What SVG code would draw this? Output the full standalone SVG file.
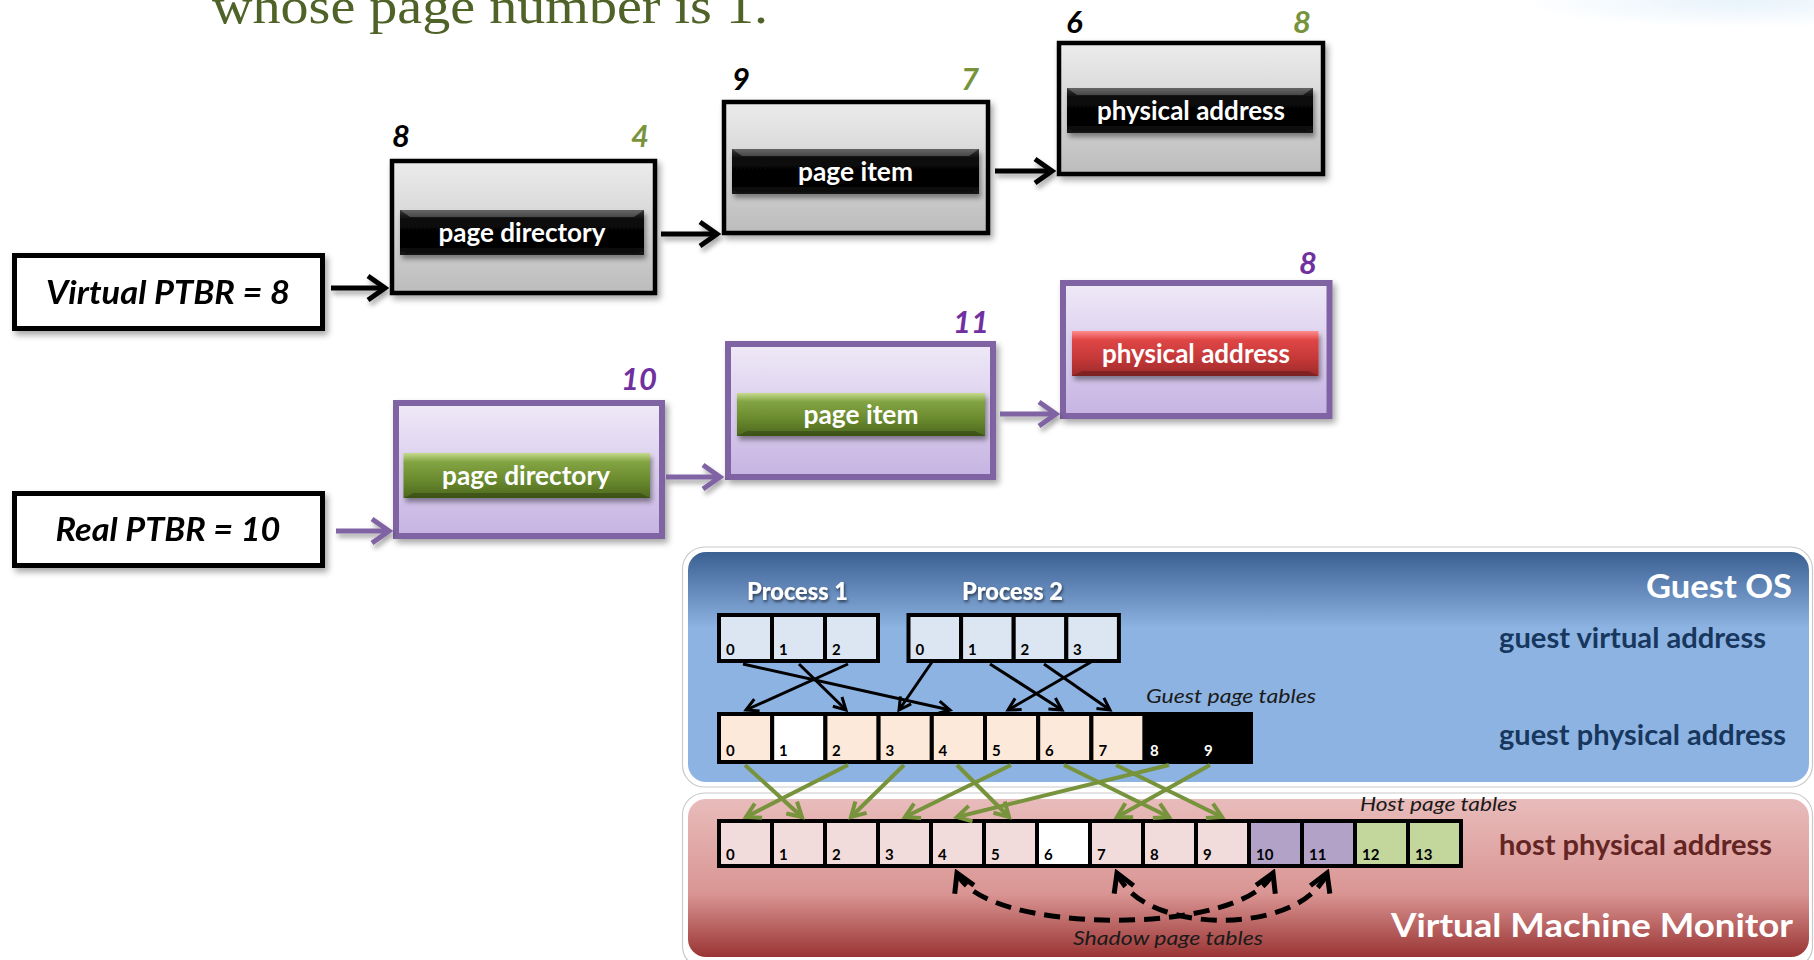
<svg xmlns="http://www.w3.org/2000/svg" width="1814" height="960" viewBox="0 0 1814 960">
  <defs>
    <style>
      .ptbr { fill: #ffffff; stroke: #000000; stroke-width: 5; }
      .ptbrTxt { font-family: Lato, "Liberation Sans", sans-serif; font-size: 33px; font-style: italic; font-weight: bold; fill: #000000; text-anchor: middle; }
      .grayBox { fill: url(#grayGrad); stroke: #000000; stroke-width: 4.5; }
      .purpleBox { fill: url(#purpleGrad); stroke: #8064a2; stroke-width: 6; }
      .btnTxt { font-family: Lato, "Liberation Sans", sans-serif; font-size: 27px; font-weight: bold; fill: #ffffff; text-anchor: middle; }
      .bevelTop { fill: #ffffff; opacity: 0.22; }
      .bevelBot { fill: #000000; opacity: 0.22; }
      .num { font-family: Lato, "Liberation Sans", sans-serif; font-size: 31px; font-style: italic; font-weight: bold; }
      .numBlack { fill: #000000; }
      .numGreen { fill: #77933c; }
      .numPurple { fill: #7030a0; }
      .cell { stroke: #000000; stroke-width: 4; }
      .pv { fill: #dce6f2; }
      .gp { fill: #fde9d9; }
      .hp { fill: #f2dcdb; }
      .wh { fill: #ffffff; }
      .bk { fill: #000000; }
      .pu { fill: #b3a2c7; }
      .gr { fill: #c3d69b; }
      .cellNum { font-family: Lato, "Liberation Sans", sans-serif; font-size: 15px; font-weight: bold; fill: #000000; }
      .cellNumW { fill: #ffffff; }
      .procTxt { font-family: Lato, "Liberation Sans", sans-serif; font-size: 25px; font-weight: 900; fill: #ffffff; text-anchor: middle; }
      .panelTitle { font-family: Lato, "Liberation Sans", sans-serif; font-size: 32px; font-weight: bold; fill: #ffffff; text-anchor: end; }
      .addrBlue { font-family: Lato, "Liberation Sans", sans-serif; font-size: 29px; font-weight: bold; fill: #17375e; }
      .addrRed { font-family: Lato, "Liberation Sans", sans-serif; font-size: 29px; font-weight: bold; fill: #632523; }
      .note { font-family: Lato, "Liberation Sans", sans-serif; font-size: 19px; font-style: italic; fill: #1a1a1a; }
      .lnBlack { fill: none; stroke: #000000; stroke-width: 5; }
      .lnPurple { fill: none; stroke: #8064a2; stroke-width: 5; }
      .lnMap { fill: none; stroke: #000000; stroke-width: 3; }
      .lnGreen { fill: none; stroke: #77933c; stroke-width: 4; }
      .lnShadow { fill: none; stroke: #000000; stroke-width: 5; stroke-dasharray: 16 9; }
    </style>

    <linearGradient id="grayGrad" x1="0" y1="0" x2="0" y2="1">
      <stop offset="0" stop-color="#ececec"/>
      <stop offset="1" stop-color="#bcbcbc"/>
    </linearGradient>
    <linearGradient id="purpleGrad" x1="0" y1="0" x2="0" y2="1">
      <stop offset="0" stop-color="#efe9f7"/>
      <stop offset="1" stop-color="#c6b3e2"/>
    </linearGradient>
    <linearGradient id="blackBtn" x1="0" y1="0" x2="0" y2="1">
      <stop offset="0" stop-color="#3a3a3a"/>
      <stop offset="0.2" stop-color="#0a0a0a"/>
      <stop offset="0.8" stop-color="#000000"/>
      <stop offset="1" stop-color="#1c1c1c"/>
    </linearGradient>
    <linearGradient id="greenBtn" x1="0" y1="0" x2="0" y2="1">
      <stop offset="0" stop-color="#c4da8c"/>
      <stop offset="0.2" stop-color="#83a443"/>
      <stop offset="0.6" stop-color="#6a8a2e"/>
      <stop offset="1" stop-color="#4d681f"/>
    </linearGradient>
    <linearGradient id="redBtn" x1="0" y1="0" x2="0" y2="1">
      <stop offset="0" stop-color="#ff8c8c"/>
      <stop offset="0.2" stop-color="#df4646"/>
      <stop offset="0.6" stop-color="#c63838"/>
      <stop offset="1" stop-color="#9e2a2a"/>
    </linearGradient>
    <linearGradient id="guestGrad" x1="0" y1="0" x2="0" y2="1">
      <stop offset="0" stop-color="#3a5f91"/>
      <stop offset="0.33" stop-color="#8db3e2"/>
      <stop offset="1" stop-color="#8db3e2"/>
    </linearGradient>
    <linearGradient id="vmmGrad" x1="0" y1="0" x2="0" y2="1">
      <stop offset="0" stop-color="#e8bcbb"/>
      <stop offset="0.6" stop-color="#d99593"/>
      <stop offset="1" stop-color="#9a3434"/>
    </linearGradient>
    <radialGradient id="hazeGrad" cx="0.5" cy="0.5" r="0.5">
      <stop offset="0" stop-color="#e2f0fa" stop-opacity="0.8"/>
      <stop offset="1" stop-color="#e2f0fa" stop-opacity="0"/>
    </radialGradient>

    <filter id="shadow" x="-10%" y="-10%" width="125%" height="135%">
      <feDropShadow dx="3" dy="4" stdDeviation="3" flood-color="#000000" flood-opacity="0.35"/>
    </filter>
    <filter id="lineShadow" filterUnits="userSpaceOnUse" x="0" y="0" width="1814" height="960">
      <feDropShadow dx="2" dy="4" stdDeviation="2.5" flood-color="#000000" flood-opacity="0.35"/>
    </filter>
    <filter id="btnShadow" x="-10%" y="-20%" width="125%" height="160%">
      <feDropShadow dx="2" dy="4" stdDeviation="2.5" flood-color="#000000" flood-opacity="0.4"/>
    </filter>
    <filter id="txtShadow" x="-10%" y="-30%" width="125%" height="170%">
      <feDropShadow dx="1" dy="2" stdDeviation="1.5" flood-color="#000000" flood-opacity="0.6"/>
    </filter>

    <marker id="headBlack" markerUnits="userSpaceOnUse" viewBox="-22 -16 26 32" markerWidth="26" markerHeight="32" refX="0" refY="0" orient="auto">
      <path d="M-17,-12 L0,0 L-17,12" fill="none" stroke="#000000" stroke-width="5"/>
    </marker>
    <marker id="headPurple" markerUnits="userSpaceOnUse" viewBox="-22 -16 26 32" markerWidth="26" markerHeight="32" refX="0" refY="0" orient="auto">
      <path d="M-17,-12 L0,0 L-17,12" fill="none" stroke="#8064a2" stroke-width="5"/>
    </marker>
    <marker id="headMap" markerUnits="userSpaceOnUse" viewBox="-16 -10 20 20" markerWidth="20" markerHeight="20" refX="0" refY="0" orient="auto">
      <path d="M-12,-6.5 L0,0 L-12,6.5" fill="none" stroke="#000000" stroke-width="3"/>
    </marker>
    <marker id="headGreen" markerUnits="userSpaceOnUse" viewBox="-18 -12 22 24" markerWidth="22" markerHeight="24" refX="0" refY="0" orient="auto">
      <path d="M-14,-8 L0,0 L-14,8" fill="none" stroke="#77933c" stroke-width="4"/>
    </marker>
    <marker id="headShadow" markerUnits="userSpaceOnUse" viewBox="-24 -16 28 32" markerWidth="28" markerHeight="32" refX="0" refY="0" orient="auto-start-reverse">
      <path d="M-18,-10.5 L0,0 L-18,10.5" fill="none" stroke="#000000" stroke-width="5"/>
    </marker>
  </defs>

  <!-- page background -->
  <rect x="0" y="0" width="1814" height="960" fill="#ffffff"/>
  <ellipse cx="1740" cy="2" rx="220" ry="26" fill="url(#hazeGrad)"/>

  <!-- heading line, partly above the top edge -->
  <text x="212" y="23" font-family="'Liberation Serif', 'DejaVu Serif', serif" font-size="50" fill="#4f6228" textLength="556" lengthAdjust="spacingAndGlyphs">whose page number is 1.</text>

  <!-- ===== two-level lookup: virtual and real chains ===== -->
  <g id="virtual-ptbr" filter="url(#shadow)">
    <rect class="ptbr" x="14.5" y="255.5" width="308" height="73"/>
    <text class="ptbrTxt" x="168" y="304" textLength="244" lengthAdjust="spacingAndGlyphs">Virtual PTBR = 8</text>
  </g>
  <g id="real-ptbr" filter="url(#shadow)">
    <rect class="ptbr" x="14.5" y="493.5" width="308" height="72"/>
    <text class="ptbrTxt" x="168" y="541" textLength="225" lengthAdjust="spacingAndGlyphs">Real PTBR = 10</text>
  </g>

  <g id="virtual-page-directory">
    <rect class="grayBox" x="392" y="161" width="263" height="132" filter="url(#shadow)"/>
    <g filter="url(#btnShadow)">
      <rect x="400" y="210" width="244" height="45" fill="url(#blackBtn)"/>
      <polygon class="bevelTop" points="400,210 644,210 634,217 410,217"/>
      <polygon class="bevelBot" points="400,255 644,255 634,250 410,250"/>
    </g>
    <text class="btnTxt" x="522" y="242" textLength="167" lengthAdjust="spacingAndGlyphs">page directory</text>
    <text class="num numBlack" x="392" y="147">8</text>
    <text class="num numGreen" x="649" y="147" text-anchor="end">4</text>
  </g>

  <g id="virtual-page-item">
    <rect class="grayBox" x="724" y="102" width="264" height="131" filter="url(#shadow)"/>
    <g filter="url(#btnShadow)">
      <rect x="732" y="149" width="247" height="45" fill="url(#blackBtn)"/>
      <polygon class="bevelTop" points="732,149 979,149 969,156 742,156"/>
      <polygon class="bevelBot" points="732,194 979,194 969,189 742,189"/>
    </g>
    <text class="btnTxt" x="855.5" y="181" textLength="115" lengthAdjust="spacingAndGlyphs">page item</text>
    <text class="num numBlack" x="732" y="90">9</text>
    <text class="num numGreen" x="979" y="90" text-anchor="end">7</text>
  </g>

  <g id="virtual-physical-address">
    <rect class="grayBox" x="1059" y="43" width="264" height="131" filter="url(#shadow)"/>
    <g filter="url(#btnShadow)">
      <rect x="1067" y="88" width="246" height="45" fill="url(#blackBtn)"/>
      <polygon class="bevelTop" points="1067,88 1313,88 1303,95 1077,95"/>
      <polygon class="bevelBot" points="1067,133 1313,133 1303,128 1077,128"/>
    </g>
    <text class="btnTxt" x="1191" y="120" textLength="188" lengthAdjust="spacingAndGlyphs">physical address</text>
    <text class="num numBlack" x="1066" y="33">6</text>
    <text class="num numGreen" x="1311" y="33" text-anchor="end">8</text>
  </g>

  <g id="real-page-directory">
    <rect class="purpleBox" x="396" y="403" width="266" height="133" filter="url(#shadow)"/>
    <g filter="url(#btnShadow)">
      <rect x="403.5" y="453" width="246.5" height="45" fill="url(#greenBtn)"/>
      <polygon class="bevelBot" points="403.5,498 650,498 640,493 413.5,493"/>
    </g>
    <text class="btnTxt" x="526" y="485" textLength="168" lengthAdjust="spacingAndGlyphs">page directory</text>
    <text class="num numPurple" x="657" y="390" text-anchor="end">10</text>
  </g>

  <g id="real-page-item">
    <rect class="purpleBox" x="728" y="344" width="265" height="133" filter="url(#shadow)"/>
    <g filter="url(#btnShadow)">
      <rect x="737" y="393" width="248" height="43" fill="url(#greenBtn)"/>
      <polygon class="bevelBot" points="737,436 985,436 975,431 747,431"/>
    </g>
    <text class="btnTxt" x="861" y="424" textLength="115" lengthAdjust="spacingAndGlyphs">page item</text>
    <text class="num numPurple" x="989" y="333" text-anchor="end">11</text>
  </g>

  <g id="real-physical-address">
    <rect class="purpleBox" x="1063" y="283" width="266.5" height="133" filter="url(#shadow)"/>
    <g filter="url(#btnShadow)">
      <rect x="1072" y="331" width="246.5" height="45" fill="url(#redBtn)"/>
      <polygon class="bevelBot" points="1072,376 1318.5,376 1308.5,371 1082,371"/>
    </g>
    <text class="btnTxt" x="1196" y="363" textLength="188" lengthAdjust="spacingAndGlyphs">physical address</text>
    <text class="num numPurple" x="1317" y="274" text-anchor="end">8</text>
  </g>

  <!-- ===== memory layers ===== -->
  <g id="guest-os">
    <rect x="682.5" y="547" width="1130" height="240" rx="22" fill="#ffffff" stroke="#c9c9c9" stroke-width="1.2"/>
    <rect x="688" y="552" width="1121" height="230" rx="18" fill="url(#guestGrad)"/>
    <text class="panelTitle" x="1792" y="598" textLength="146" lengthAdjust="spacingAndGlyphs">Guest OS</text>
    <text class="addrBlue" x="1499" y="648" textLength="267" lengthAdjust="spacingAndGlyphs">guest virtual  address</text>
    <text class="addrBlue" x="1499" y="745" textLength="287" lengthAdjust="spacingAndGlyphs">guest physical  address</text>
    <text class="note" x="1146" y="703" textLength="170" lengthAdjust="spacingAndGlyphs">Guest page tables</text>
  </g>

  <g id="vmm">
    <rect x="682.5" y="793" width="1130" height="175" rx="22" fill="#ffffff" stroke="#c9c9c9" stroke-width="1.2"/>
    <rect x="688" y="799" width="1121" height="158" rx="18" fill="url(#vmmGrad)"/>
    <text class="addrRed" x="1499" y="855" textLength="273" lengthAdjust="spacingAndGlyphs">host physical  address</text>
    <text class="panelTitle" x="1793" y="937" textLength="402" lengthAdjust="spacingAndGlyphs">Virtual Machine Monitor</text>
    <text class="note" x="1360" y="811" textLength="157" lengthAdjust="spacingAndGlyphs">Host page tables</text>
    <text class="note" x="1073" y="945" textLength="190" lengthAdjust="spacingAndGlyphs">Shadow page tables</text>
  </g>

  <g id="process-1">
    <text class="procTxt" x="797.5" y="600" filter="url(#txtShadow)" textLength="101" lengthAdjust="spacingAndGlyphs">Process 1</text>
    <rect class="cell pv" x="719" y="615" width="53" height="46"/>
    <rect class="cell pv" x="772" y="615" width="53" height="46"/>
    <rect class="cell pv" x="825" y="615" width="53" height="46"/>
    <text class="cellNum" x="726" y="655">0</text>
    <text class="cellNum" x="779" y="655">1</text>
    <text class="cellNum" x="832" y="655">2</text>
  </g>

  <g id="process-2">
    <text class="procTxt" x="1012.5" y="600" filter="url(#txtShadow)" textLength="101" lengthAdjust="spacingAndGlyphs">Process 2</text>
    <rect class="cell pv" x="908.5" y="615" width="52.6" height="46"/>
    <rect class="cell pv" x="961.1" y="615" width="52.6" height="46"/>
    <rect class="cell pv" x="1013.7" y="615" width="52.6" height="46"/>
    <rect class="cell pv" x="1066.3" y="615" width="52.6" height="46"/>
    <text class="cellNum" x="915.5" y="655">0</text>
    <text class="cellNum" x="968" y="655">1</text>
    <text class="cellNum" x="1020.5" y="655">2</text>
    <text class="cellNum" x="1073" y="655">3</text>
  </g>

  <g id="guest-physical">
    <rect class="cell gp" x="719" y="714" width="53.2" height="48"/>
    <rect class="cell wh" x="772.2" y="714" width="53.2" height="48"/>
    <rect class="cell gp" x="825.4" y="714" width="53.2" height="48"/>
    <rect class="cell gp" x="878.6" y="714" width="53.2" height="48"/>
    <rect class="cell gp" x="931.8" y="714" width="53.2" height="48"/>
    <rect class="cell gp" x="985" y="714" width="53.2" height="48"/>
    <rect class="cell gp" x="1038.2" y="714" width="53.2" height="48"/>
    <rect class="cell gp" x="1091.4" y="714" width="53.2" height="48"/>
    <rect class="cell bk" x="1144.6" y="714" width="53.2" height="48"/>
    <rect class="cell bk" x="1197.8" y="714" width="53.2" height="48"/>
    <text class="cellNum" x="726" y="756">0</text>
    <text class="cellNum" x="779" y="756">1</text>
    <text class="cellNum" x="832" y="756">2</text>
    <text class="cellNum" x="885.5" y="756">3</text>
    <text class="cellNum" x="938.5" y="756">4</text>
    <text class="cellNum" x="992" y="756">5</text>
    <text class="cellNum" x="1045" y="756">6</text>
    <text class="cellNum" x="1098.5" y="756">7</text>
    <text class="cellNum cellNumW" x="1150" y="756">8</text>
    <text class="cellNum cellNumW" x="1204" y="756">9</text>
  </g>

  <g id="host-physical">
    <rect class="cell hp" x="719" y="821" width="53" height="45"/>
    <rect class="cell hp" x="772" y="821" width="53" height="45"/>
    <rect class="cell hp" x="825" y="821" width="53" height="45"/>
    <rect class="cell hp" x="878" y="821" width="53" height="45"/>
    <rect class="cell hp" x="931" y="821" width="53" height="45"/>
    <rect class="cell hp" x="984" y="821" width="53" height="45"/>
    <rect class="cell wh" x="1037" y="821" width="53" height="45"/>
    <rect class="cell hp" x="1090" y="821" width="53" height="45"/>
    <rect class="cell hp" x="1143" y="821" width="53" height="45"/>
    <rect class="cell hp" x="1196" y="821" width="53" height="45"/>
    <rect class="cell pu" x="1249" y="821" width="53" height="45"/>
    <rect class="cell pu" x="1302" y="821" width="53" height="45"/>
    <rect class="cell gr" x="1355" y="821" width="53" height="45"/>
    <rect class="cell gr" x="1408" y="821" width="53" height="45"/>
    <text class="cellNum" x="726" y="860">0</text>
    <text class="cellNum" x="779" y="860">1</text>
    <text class="cellNum" x="832" y="860">2</text>
    <text class="cellNum" x="885" y="860">3</text>
    <text class="cellNum" x="938" y="860">4</text>
    <text class="cellNum" x="991" y="860">5</text>
    <text class="cellNum" x="1044" y="860">6</text>
    <text class="cellNum" x="1097" y="860">7</text>
    <text class="cellNum" x="1150" y="860">8</text>
    <text class="cellNum" x="1203" y="860">9</text>
    <text class="cellNum" x="1256" y="860">10</text>
    <text class="cellNum" x="1309" y="860">11</text>
    <text class="cellNum" x="1362" y="860">12</text>
    <text class="cellNum" x="1415" y="860">13</text>
  </g>

  <!-- ===== connectors ===== -->
  <g id="connectors">
    <!-- pointer chains -->
    <g filter="url(#lineShadow)">
      <path class="lnBlack" d="M331,288 H385" marker-end="url(#headBlack)"/>
      <path class="lnBlack" d="M661,234 H717" marker-end="url(#headBlack)"/>
      <path class="lnBlack" d="M995,171 H1052" marker-end="url(#headBlack)"/>
      <path class="lnPurple" d="M336,531 H389" marker-end="url(#headPurple)"/>
      <path class="lnPurple" d="M666,477 H720" marker-end="url(#headPurple)"/>
      <path class="lnPurple" d="M1000,414 H1056" marker-end="url(#headPurple)"/>
    </g>

    <!-- guest virtual to guest physical -->
    <path class="lnMap" d="M743,664 L950,710" marker-end="url(#headMap)"/>
    <path class="lnMap" d="M799,664 L846,710" marker-end="url(#headMap)"/>
    <path class="lnMap" d="M848,664 L746,710" marker-end="url(#headMap)"/>
    <path class="lnMap" d="M932,662 L899,710" marker-end="url(#headMap)"/>
    <path class="lnMap" d="M990,664 L1062,710" marker-end="url(#headMap)"/>
    <path class="lnMap" d="M1044,664 L1110,710" marker-end="url(#headMap)"/>
    <path class="lnMap" d="M1091,662 L1008,710" marker-end="url(#headMap)"/>

    <!-- guest physical to host physical -->
    <path class="lnGreen" d="M745,765 L802,817" marker-end="url(#headGreen)"/>
    <path class="lnGreen" d="M848,765 L746,817" marker-end="url(#headGreen)"/>
    <path class="lnGreen" d="M904,765 L851,817" marker-end="url(#headGreen)"/>
    <path class="lnGreen" d="M957,765 L1009,817" marker-end="url(#headGreen)"/>
    <path class="lnGreen" d="M1011,765 L905,817" marker-end="url(#headGreen)"/>
    <path class="lnGreen" d="M1064,765 L1169,817" marker-end="url(#headGreen)"/>
    <path class="lnGreen" d="M1116,765 L1222,817" marker-end="url(#headGreen)"/>
    <path class="lnGreen" d="M1169,765 L957,817" marker-end="url(#headGreen)"/>
    <path class="lnGreen" d="M1210,765 L1117,817" marker-end="url(#headGreen)"/>

    <!-- shadow page table links -->
    <path class="lnShadow" d="M957,873 C985,936 1245,936 1273,873" marker-start="url(#headShadow)" marker-end="url(#headShadow)"/>
    <path class="lnShadow" d="M1117,873 C1143,936 1301,936 1327,873" marker-start="url(#headShadow)" marker-end="url(#headShadow)"/>
  </g>
</svg>
